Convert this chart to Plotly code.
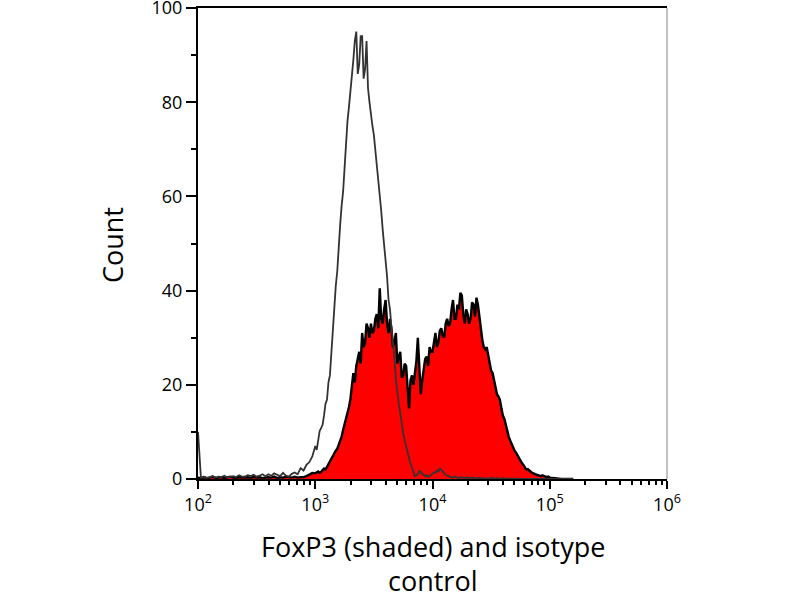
import plotly.graph_objects as go

# channel positions (log10 of fluorescence intensity)
log_fl = [
    # coarse left tail
    2.000, 2.025, 2.050, 2.075, 2.100, 2.125, 2.150, 2.175,
    2.200, 2.225, 2.250, 2.275, 2.300, 2.325, 2.350, 2.375,
    2.400, 2.425, 2.450, 2.475, 2.500, 2.525, 2.550, 2.575,
    2.600, 2.625, 2.650, 2.675, 2.700, 2.725, 2.750, 2.775,
    2.800, 2.825, 2.850, 2.875, 2.900, 2.925, 2.950, 2.975,
    # fine middle
    3.0000, 3.0125, 3.0250, 3.0375, 3.0500, 3.0625, 3.0750, 3.0875,
    3.1000, 3.1125, 3.1250, 3.1375, 3.1500, 3.1625, 3.1750, 3.1875,
    3.2000, 3.2125, 3.2250, 3.2375, 3.2500, 3.2625, 3.2750, 3.2875,
    3.3000, 3.3125, 3.3250, 3.3375, 3.3500, 3.3625, 3.3750, 3.3875,
    3.4000, 3.4125, 3.4250, 3.4375, 3.4500, 3.4625, 3.4750, 3.4875,
    3.5000, 3.5125, 3.5250, 3.5375, 3.5500, 3.5625, 3.5750, 3.5875,
    3.6000, 3.6125, 3.6250, 3.6375, 3.6500, 3.6625, 3.6750, 3.6875,
    3.7000, 3.7125, 3.7250, 3.7375, 3.7500, 3.7625, 3.7750, 3.7875,
    3.8000, 3.8125, 3.8250, 3.8375, 3.8500, 3.8625, 3.8750, 3.8875,
    3.9000, 3.9125, 3.9250, 3.9375, 3.9500, 3.9625, 3.9750, 3.9875,
    4.0000, 4.0125, 4.0250, 4.0375, 4.0500, 4.0625, 4.0750, 4.0875,
    4.1000, 4.1125, 4.1250, 4.1375, 4.1500, 4.1625, 4.1750, 4.1875,
    4.2000, 4.2125, 4.2250, 4.2375, 4.2500, 4.2625, 4.2750, 4.2875,
    4.3000, 4.3125, 4.3250, 4.3375, 4.3500, 4.3625, 4.3750, 4.3875,
    4.4000, 4.4125, 4.4250, 4.4375, 4.4500, 4.4625, 4.4750, 4.4875,
    4.5000, 4.5125, 4.5250, 4.5375, 4.5500, 4.5625, 4.5750, 4.5875,
    4.6000, 4.6125, 4.6250, 4.6375, 4.6500, 4.6625, 4.6750, 4.6875,
    4.7000, 4.7125, 4.7250, 4.7375, 4.7500, 4.7625, 4.7750, 4.7875,
    4.8000, 4.8125, 4.8250, 4.8375, 4.8500, 4.8625, 4.8750, 4.8875,
    4.9000, 4.9125, 4.9250, 4.9375, 4.9500, 4.9625, 4.9750, 4.9875,
    # coarse right tail
    5.000, 5.025, 5.050, 5.075, 5.100, 5.125, 5.150, 5.175, 5.200,
]

isotype = [
    10, 0.3, 0.5, 0.2, 0.4, 0.6, 0.3, 0.5,
    0.4, 0.7, 0.3, 0.5, 0.6, 0.4, 0.8, 0.5,
    0.5, 0.8, 0.6, 0.9, 0.5, 0.7, 1.0, 0.6,
    1.0, 0.7, 1.2, 0.9, 0.6, 1.3, 0.7, 0.5,
    1.1, 1.4, 1.0, 2.3, 1.8, 3.0, 3.6, 4.8,
    7.0, 6.2, 8.5, 10.2, 10.8, 11.5, 13.5, 16.0,
    16.8, 20.5, 22, 27, 30, 36, 41, 44,
    50, 54, 58, 61, 66, 72, 76, 79,
    82, 86, 89, 93, 95, 86, 88, 94,
    94, 85, 87, 93, 83, 80, 77, 75,
    73, 70, 67, 63, 60, 57, 53, 50,
    47, 43, 38, 36, 32, 29, 26, 21,
    18, 16, 14, 11.5, 9.8, 8.2, 7, 5.5,
    4, 3.2, 2.5, 1.3, 0.6, 0.8, 1.0, 1.7,
    1.5, 1.1, 0.9, 0.6, 0.8, 0.5, 0.6, 0.9,
    1.0, 1.4, 1.3, 1.8, 1.6, 2.2, 2.0, 1.5,
    1.2, 0.9, 0.7, 0.6, 0.5, 0.3, 0.3, 0.5,
    0.4, 0.3, 0.2, 0.4, 0.3, 0.2, 0.2, 0.3,
    0.4, 0.2, 0.2, 0.3, 0.3, 0.1, 0.2, 0.2,
    0.3, 0.2, 0.2, 0.1, 0.1, 0.2, 0.2, 0.1,
    0.3, 0.2, 0.1, 0.1, 0.2, 0.1, 0.1, 0.1,
    0.2, 0.1, 0.1, 0.1, 0.1, 0.2, 0.2, 0.1,
    0.1, 0.1, 0.1, 0.1, 0.1, 0.0, 0.0, 0.1,
    0.1, 0.0, 0.1, 0.0, 0.0, 0.1, 0.1, 0.0,
    0.0, 0.0, 0.0, 0.1, 0.0, 0.0, 0.1, 0.0,
    0, 0, 0, 0, 0, 0, 0, 0, 0,
]

foxp3 = [
    0.3, 0.2, 0.4, 0.2, 0.3, 0.5, 0.2, 0.3,
    0.4, 0.2, 0.3, 0.5, 0.3, 0.2, 0.4, 0.3,
    0.3, 0.4, 0.2, 0.5, 0.3, 0.4, 0.2, 0.3,
    0.4, 0.3, 0.5, 0.2, 0.4, 0.3, 0.5, 0.4,
    0.3, 0.5, 0.3, 0.4, 0.4, 0.6, 1.0, 1.3,
    1.2, 1.4, 1.6, 1.3, 1.5, 1.9, 2.2, 2.0,
    2.6, 3.1, 3.8, 4.2, 4.7, 5.3, 6.0, 6.4,
    7.2, 8.3, 9.0, 10.4, 11.5, 12.6, 14.0, 15.3,
    17.0, 19.5, 22.5, 20.5, 24.0, 25.5, 27, 24.5,
    31, 28, 29, 33, 32, 30, 33, 31,
    31.5, 34, 35, 32, 40.5, 34, 33, 36,
    38, 33, 31, 34, 32, 28, 29, 31,
    24.5, 26, 27, 21.5, 22, 24.5, 24, 19.5,
    15, 21, 22, 20, 23, 25, 30, 22,
    18, 21, 24, 25.5, 26, 24, 28, 27,
    27, 29.5, 31, 28, 29, 31.5, 32, 30.5,
    30, 33, 34, 32.5, 33, 36, 38, 34,
    34, 37, 36, 39.5, 39, 35, 33, 36,
    35, 33, 34, 37.5, 37, 34.5, 38.5, 37,
    34, 31, 29.5, 28, 27.5, 28, 26, 24.5,
    23, 22.5, 21, 19.5, 18, 17.5, 16.8, 15,
    13.5, 12.8, 11.5, 10, 9, 8.2, 7.5, 6.5,
    6, 5.6, 5, 4.3, 4, 3.4, 3, 2.5,
    2, 2.1, 1.8, 1.5, 1.3, 1.2, 1.0, 0.9,
    0.8, 0.7, 0.6, 0.8, 0.7, 0.5, 0.4, 0.5,
    0.3, 0.2, 0.1, 0.1, 0, 0, 0, 0, 0,
]

decades = [100, 1000, 10000, 100000, 1000000]
decade_labels = ["10<sup>2</sup>", "10<sup>3</sup>", "10<sup>4</sup>",
                 "10<sup>5</sup>", "10<sup>6</sup>"]
y_ticks = [0, 20, 40, 60, 80, 100]

fl = [10 ** v for v in log_fl]
minor_vals = [m * 10 ** d for d in range(2, 6) for m in range(2, 10)]

fig = go.Figure()
fig.add_trace(go.Scatter(x=fl, y=foxp3, mode="lines", fill="tozeroy",
                         fillcolor="#ff0000",
                         line=dict(color="black", width=2.4)))
fig.add_trace(go.Scatter(x=fl, y=isotype, mode="lines",
                         line=dict(color="#333333", width=1.8)))

font = "Open Sans"
fig.update_xaxes(type="log", range=[2, 6], tickvals=decades, ticktext=decade_labels,
                 ticks="outside", ticklen=8, tickwidth=1.5, tickcolor="black",
                 showline=True, linecolor="black", linewidth=2, mirror=True,
                 showgrid=False, zeroline=False, automargin=False,
                 tickfont=dict(family=font, size=18, color="black"),
                 minor=dict(tickvals=minor_vals, ticks="outside", ticklen=4,
                            tickwidth=1.5, tickcolor="black", showgrid=False))
fig.update_yaxes(range=[0, 100], tickvals=y_ticks,
                 ticks="outside", ticklen=10, tickwidth=1.5, tickcolor="black",
                 showline=True, linecolor="black", linewidth=2,
                 showgrid=False, zeroline=False, automargin=False,
                 ticklabeloverflow="allow",
                 tickfont=dict(family=font, size=18, color="black"),
                 minor=dict(dtick=10, ticks="outside", ticklen=5,
                            tickwidth=1.5, tickcolor="black", showgrid=False))

# thin grey right border
fig.add_shape(type="line", xref="paper", yref="paper", x0=1, x1=1, y0=0, y1=1,
              line=dict(color="#999999", width=1.2))

fig.add_annotation(text="Count", xref="paper", yref="paper", x=-0.181, y=0.497,
                   xanchor="center", yanchor="middle",
                   textangle=-90, showarrow=False,
                   font=dict(family=font, size=27, color="black"))
fig.add_annotation(text="FoxP3 (shaded) and isotype", xref="paper", yref="paper",
                   x=0.5, y=-0.143, xanchor="center", yanchor="middle",
                   showarrow=False,
                   font=dict(family=font, size=27, color="black"))
fig.add_annotation(text="control", xref="paper", yref="paper",
                   x=0.5, y=-0.215, xanchor="center", yanchor="middle",
                   showarrow=False,
                   font=dict(family=font, size=27, color="black"))

fig.update_layout(width=800, height=600, showlegend=False,
                  paper_bgcolor="white", plot_bgcolor="white",
                  margin=dict(l=198, r=133, t=8, b=121))

fig.write_html("out.html", config={"displayModeBar": False},
               post_script="document.body.style.margin='0';")
